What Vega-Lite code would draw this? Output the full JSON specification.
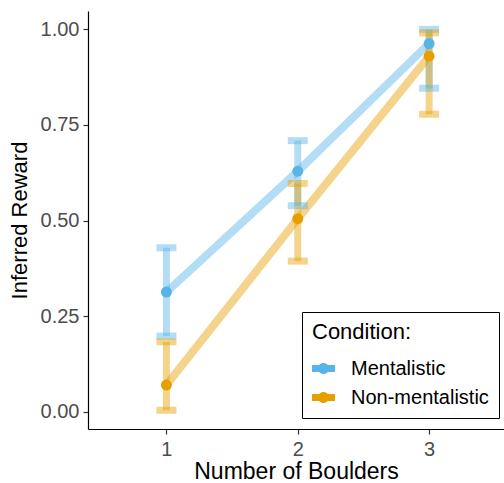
{
  "$schema": "https://vega.github.io/schema/vega-lite/v6.json",
  "width": 416,
  "height": 418,
  "autosize": {"type": "none"},
  "padding": {"left": 88, "top": 11, "right": 0, "bottom": 54},
  "background": "white",
  "config": {
    "view": {"stroke": null},
    "font": "Liberation Sans",
    "axis": {
      "domainColor": "black",
      "domainWidth": 1.2,
      "tickColor": "#333333",
      "tickSize": 5,
      "tickWidth": 1.2,
      "grid": false,
      "labelColor": "#4D4D4D",
      "labelFontSize": 20,
      "labelPadding": 4,
      "titleColor": "black",
      "titleFontSize": 23,
      "titleFontWeight": "normal"
    }
  },
  "data": {
    "values": [
      {"boulders": 1, "condition": "Mentalistic", "mean": 0.313, "lo": 0.198, "hi": 0.429},
      {"boulders": 2, "condition": "Mentalistic", "mean": 0.629, "lo": 0.539, "hi": 0.709},
      {"boulders": 3, "condition": "Mentalistic", "mean": 0.963, "lo": 0.846, "hi": 1.0},
      {"boulders": 1, "condition": "Non-mentalistic", "mean": 0.07, "lo": 0.004, "hi": 0.183},
      {"boulders": 2, "condition": "Non-mentalistic", "mean": 0.505, "lo": 0.394, "hi": 0.597},
      {"boulders": 3, "condition": "Non-mentalistic", "mean": 0.93, "lo": 0.778, "hi": 0.991}
    ]
  },
  "encoding": {
    "x": {
      "field": "boulders",
      "type": "quantitative",
      "scale": {"domain": [0.403, 3.57], "nice": false, "zero": false},
      "axis": {"values": [1, 2, 3], "format": "d", "title": "Number of Boulders", "titlePadding": 1, "labelPadding": 5}
    },
    "color": {
      "field": "condition",
      "type": "nominal",
      "scale": {"domain": ["Mentalistic", "Non-mentalistic"], "range": ["#56B4E9", "#E69F00"]},
      "legend": {
        "title": "Condition:",
        "orient": "none",
        "legendX": 214,
        "legendY": 301,
        "strokeColor": "black",
        "padding": 10,
        "titleFontSize": 22,
        "titleFontWeight": "normal",
        "titleColor": "black",
        "titlePadding": 13,
        "labelFontSize": 20,
        "labelColor": "black",
        "labelOffset": 16,
        "rowPadding": 7,
        "symbolType": "M-1,-0.3L1,-0.3L1,0.3L-1,0.3Z M0.48,0 A0.48,0.48 0 1,1 -0.48,0 A0.48,0.48 0 1,1 0.48,0 Z",
        "symbolSize": 529,
        "symbolOpacity": 1,
        "symbolStrokeWidth": 0,
        "encode": {
          "symbols": {
            "update": {
              "fill": {"scale": "color", "field": "value"},
              "stroke": {"value": "transparent"},
              "opacity": {"value": 1}
            }
          }
        }
      }
    }
  },
  "layer": [
    {
      "mark": {"type": "line", "strokeWidth": 8, "opacity": 0.45},
      "encoding": {
        "y": {
          "field": "mean",
          "type": "quantitative",
          "scale": {"domain": [-0.045, 1.048], "nice": false, "zero": false},
          "axis": {"values": [0, 0.25, 0.5, 0.75, 1], "format": ".2f", "title": "Inferred Reward", "titlePadding": 9, "titleFontSize": 22}
        }
      }
    },
    {
      "mark": {"type": "rule", "strokeWidth": 7, "opacity": 0.45},
      "encoding": {
        "y": {"field": "lo", "type": "quantitative"},
        "y2": {"field": "hi"}
      }
    },
    {
      "mark": {"type": "tick", "orient": "horizontal", "size": 20, "thickness": 7, "opacity": 0.45},
      "encoding": {"y": {"field": "lo", "type": "quantitative"}}
    },
    {
      "mark": {"type": "tick", "orient": "horizontal", "size": 20, "thickness": 7, "opacity": 0.45},
      "encoding": {"y": {"field": "hi", "type": "quantitative"}}
    },
    {
      "mark": {"type": "point", "filled": true, "size": 120, "opacity": 1},
      "encoding": {"y": {"field": "mean", "type": "quantitative"}}
    }
  ]
}
